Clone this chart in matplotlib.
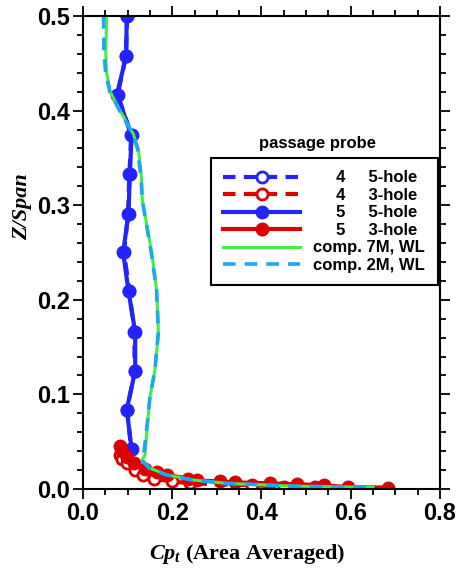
import numpy as np
import matplotlib
matplotlib.use('Agg')
import matplotlib.pyplot as plt
from matplotlib.ticker import MultipleLocator

plt.rcParams['mathtext.fontset'] = 'custom'
plt.rcParams['mathtext.it'] = 'Liberation Serif:italic:bold'
plt.rcParams['mathtext.rm'] = 'Liberation Serif:bold'

# ---- data ----
# passage probe 5, 5-hole (filled blue)
z_p5_5h = [0.500, 0.458, 0.417, 0.374, 0.333, 0.291, 0.250, 0.209, 0.166, 0.125, 0.084, 0.042]
cp_p5_5h = [0.098, 0.097, 0.076, 0.109, 0.105, 0.102, 0.090, 0.102, 0.117, 0.117, 0.098, 0.109]

# passage probe 4, 5-hole (hollow blue, hidden under probe 5)
z_p4_5h = [0.500, 0.458, 0.417, 0.374, 0.333, 0.291, 0.250, 0.209, 0.166, 0.125, 0.084, 0.042]
cp_p4_5h = [0.099, 0.096, 0.078, 0.108, 0.104, 0.101, 0.092, 0.104, 0.115, 0.116, 0.099, 0.108]

# passage probe 5, 3-hole (filled red)
z_p5_3h = [0.045, 0.040, 0.034, 0.027, 0.021, 0.018, 0.015, 0.011, 0.009, 0.008, 0.007, 0.006, 0.005, 0.004, 0.002, 0.0015]
cp_p5_3h = [0.083, 0.088, 0.098, 0.115, 0.140, 0.165, 0.188, 0.236, 0.255, 0.307, 0.340, 0.418, 0.480, 0.540, 0.594, 0.684]

# passage probe 4, 3-hole (hollow red)
z_p4_3h = [0.036, 0.032, 0.027, 0.020, 0.015, 0.011, 0.008, 0.006, 0.004, 0.0025, 0.002]
cp_p4_3h = [0.083, 0.087, 0.098, 0.117, 0.135, 0.158, 0.199, 0.240, 0.378, 0.450, 0.520]

# computations
z_cfd7 = [0.500, 0.460, 0.440, 0.420, 0.400, 0.375, 0.360, 0.330, 0.305, 0.250, 0.210, 0.166,
          0.125, 0.097, 0.060, 0.036, 0.031, 0.022, 0.015, 0.0095, 0.006, 0.003, 0.0018]
cp_cfd7 = [0.053, 0.051, 0.053, 0.061, 0.083, 0.113, 0.124, 0.131, 0.133, 0.154, 0.165, 0.169,
           0.161, 0.150, 0.143, 0.139, 0.133, 0.150, 0.188, 0.247, 0.322, 0.471, 0.650]
z_cfd2 = [0.500, 0.460, 0.440, 0.420, 0.400, 0.375, 0.360, 0.330, 0.305, 0.250, 0.210, 0.166,
          0.125, 0.097, 0.060, 0.036, 0.031, 0.022, 0.015, 0.0095, 0.006, 0.003, 0.0018]
cp_cfd2 = [0.046, 0.047, 0.051, 0.060, 0.082, 0.112, 0.122, 0.130, 0.133, 0.153, 0.165, 0.169,
           0.161, 0.150, 0.142, 0.136, 0.130, 0.148, 0.186, 0.245, 0.320, 0.470, 0.650]

blue = '#2323ff'
red = '#dd0000'
green = '#44ee44'
cyan = '#19a8f5'

fig = plt.figure(figsize=(4.57, 5.71), dpi=100)
ax = fig.add_axes([0.1816, 0.1436, 0.7812, 0.8284])

l1, = ax.plot(cp_p4_5h, z_p4_5h, color=blue, lw=3, ls=(0, (3, 2)), marker='o', ms=8,
              mfc='white', mec=blue, mew=2)
l2, = ax.plot(cp_p4_3h, z_p4_3h, color=red, lw=3, ls=(0, (3, 2)), marker='o', ms=8,
              mfc='white', mec=red, mew=2)
l3, = ax.plot(cp_p5_5h, z_p5_5h, color=blue, lw=3, marker='o', ms=9, mfc=blue, mec=blue)
l4, = ax.plot(cp_p5_3h, z_p5_3h, color=red, lw=3, marker='o', ms=9, mfc=red, mec=red)
l5, = ax.plot(cp_cfd7, z_cfd7, color=green, lw=2.2)
l6, = ax.plot(cp_cfd2, z_cfd2, color=cyan, lw=2.6, ls=(0, (3.5, 2.5)))

ax.set_xlim(0, 0.8)
ax.set_ylim(0, 0.5)
ax.xaxis.set_major_locator(MultipleLocator(0.2))
ax.xaxis.set_minor_locator(MultipleLocator(0.05))
ax.yaxis.set_major_locator(MultipleLocator(0.1))
ax.yaxis.set_minor_locator(MultipleLocator(0.02))
ax.xaxis.set_major_formatter(plt.FormatStrFormatter('%.1f'))
ax.yaxis.set_major_formatter(plt.FormatStrFormatter('%.1f'))

for s in ax.spines.values():
    s.set_linewidth(1.5)
ax.tick_params(which='both', direction='out', top=True, right=True, width=1.3)
ax.tick_params(which='major', length=7, pad=2)
ax.tick_params(which='minor', length=4)
for lab in ax.get_xticklabels() + ax.get_yticklabels():
    lab.set_fontfamily('Liberation Sans')
    lab.set_fontweight('bold')
    lab.set_fontsize(17)

ax.set_ylabel('Z/Span', fontfamily='Liberation Serif', fontstyle='italic',
              fontweight='bold', fontsize=16)
ax.yaxis.set_label_coords(-0.143, 0.596)
ax.set_xlabel(r'$Cp_t$ (Area Averaged)', fontfamily='Liberation Serif',
              fontweight='bold', fontsize=16)
ax.xaxis.set_label_coords(0.46, -0.112)

labels = ['     4     5-hole', '     4     3-hole', '     5     5-hole', '     5     3-hole',
          'comp. 7M, WL', 'comp. 2M, WL']
leg = ax.legend([l1, l2, l3, l4, l5, l6], labels, loc='upper left',
                bbox_to_anchor=(0.3585, 0.700), borderaxespad=0, numpoints=1,
                handlelength=4.6, handletextpad=0.8, labelspacing=0.15,
                borderpad=0.75, fancybox=False, framealpha=1, edgecolor='black',
                prop={'family': 'Liberation Sans', 'weight': 'bold', 'size': 12})
leg.get_frame().set_linewidth(1.5)
ax.text(0.658, 0.731, 'passage probe', transform=ax.transAxes, ha='center', va='center',
        fontfamily='Liberation Sans', fontweight='bold', fontsize=12)

fig.savefig('out.png', dpi=100)
